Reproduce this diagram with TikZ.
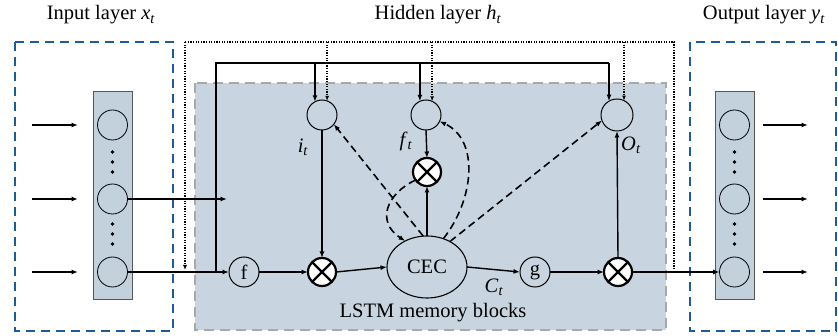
\documentclass[tikz,border=0pt]{standalone}
\usepackage{fontspec}
\setmainfont{Liberation Serif}
\usetikzlibrary{arrows.meta,shapes.geometric,calc}
\definecolor{blockfill}{HTML}{C8D5E0}
\definecolor{colfill}{HTML}{C3D1DD}
\definecolor{layerblue}{HTML}{1F5C96}
\definecolor{blockedge}{HTML}{A9A9A9}
\begin{document}
\begin{tikzpicture}[x=1pt,y=-1pt,
  txt/.style={font=\fontsize{20.5}{24}\selectfont, inner sep=0pt},
  arr/.style={-{Latex[length=6.5pt,width=5pt]}, line width=1.4pt},
  plain/.style={line width=1.4pt},
  dashedarr/.style={-{Latex[length=6.5pt,width=5pt]}, line width=1.6pt, dash pattern=on 7.5pt off 4.5pt},
  dotline/.style={line width=1.3pt, dash pattern=on 1.3pt off 1.3pt},
  dotarr/.style={dotline, -{Latex[length=5pt,width=4pt]}},
  unit/.style={circle, draw, line width=0.8pt, minimum size=30pt, inner sep=0pt, outer sep=0pt},
  gate/.style={circle, draw, line width=1pt, fill=blockfill, minimum size=30pt, inner sep=0pt, outer sep=0pt},
  mult/.style={circle, draw, line width=2.2pt, fill=white, minimum size=28pt, inner sep=0pt, outer sep=0pt},
  layerbox/.style={draw=layerblue, line width=2.4pt, dash pattern=on 9pt off 6pt},
  column/.style={draw=black!65, line width=0.8pt, fill=colfill},
  dotmark/.style={circle, fill=black, inner sep=0pt, minimum size=3.8pt}
]
\useasboundingbox (0,0) rectangle (838,336);

% LSTM memory block region
\fill[blockfill] (195,83) rectangle (666,330);
\draw[blockedge, line width=2pt, dash pattern=on 10pt off 6pt] (195,83) rectangle (666,330);

% input and output layer frames
\draw[layerbox] (15,42) rectangle (173,331);
\draw[layerbox] (690,42) rectangle (836,331);

% titles
\node[txt] (tin) at (101,15) {Input layer \textit{x}\textsubscript{\textit{t}}};
\node[txt] (thid) at (438,15) {Hidden layer \textit{h}\textsubscript{\textit{t}}};
\node[txt] (tout) at (764,15) {Output layer \textit{y}\textsubscript{\textit{t}}};

% input column
\draw[column] (93,91) rectangle (132,299);
\node[unit] (in1) at (112.5,125) {};
\node[unit] (in2) at (112.5,199) {};
\node[unit] (in3) at (112.5,272) {};
\foreach \y in {152,162,172,224,234,244}
  \node[dotmark] at (112.5,\y) {};

% output column
\draw[column] (715,91) rectangle (754,299);
\node[unit] (out1) at (734.5,125) {};
\node[unit] (out2) at (734.5,199) {};
\node[unit] (out3) at (734.5,272) {};
\foreach \y in {152,162,172,224,234,244}
  \node[dotmark] at (734.5,\y) {};

% gates
\node[gate] (ig) at (322,115) {};
\node[gate] (fg) at (426,115) {};
\node[gate, minimum size=32pt] (og) at (617,115) {};

% multiplications
\node[mult] (mi) at (322,272) {};
\node[mult] (mf) at (427,172) {};
\node[mult] (mo) at (618,272) {};
\foreach \m in {mi,mf,mo}
  \draw[line width=2.2pt] (\m.45) -- (\m.225) (\m.135) -- (\m.315);

% squashing units and cell
\node[gate, txt, minimum size=30pt] (fn) at (244,272) {f};
\node[gate, txt, minimum size=30pt] (gn) at (535,272) {g};
\node[ellipse, draw, line width=1.1pt, fill=blockfill, minimum width=80pt, minimum height=62pt, inner sep=0pt, outer sep=0pt, txt] (cec) at (427,267) {CEC};

% labels
\node[txt] (lit) at (303,147) {\textit{i}\textsubscript{\textit{t}}};
\node[txt] (lft) at (406,141) {\textit{f}\textsubscript{\textit{t}}};
\node[txt] (lot) at (631,145) {\textit{O}\textsubscript{\textit{t}}};
\node[txt] (lct) at (494,287) {\textit{C}\textsubscript{\textit{t}}};
\node[txt] (lblk) at (433,313) {LSTM memory blocks};

% external inputs and outputs
\foreach \n/\y in {1/125,2/199,3/272} {
  \coordinate (xs\n) at (32,\y);
  \draw[arr] (xs\n) -- (in\n.west -| 78,0);
  \coordinate (ye\n) at (808,\y);
  \draw[arr] (out\n.east -| 763,0) -- (ye\n);
}

% forward connections
\coordinate (xmid) at (227,199);
\draw[arr] (in2.east) -- (xmid);
\coordinate (jn) at (216,272);
\draw[arr] (in3.east) -- (fn.west);
\draw[arr] (fn.east) -- (mi.west);
\draw[arr] (mi.east) -- (cec.west);
\draw[arr] (ig.south) -- (mi.north);
\draw[arr] (fg.south) -- (mf.north);
\draw[arr] (cec.north -| mf) -- (mf.south);
\draw[arr] (cec.east) -- (gn.west);
\draw[arr] (gn.east) -- (mo.west);
\draw[arr] (mo.north) -- (og.south);
\draw[arr] (mo.east) -- (out3.west);

% input fan-out to the gates
\coordinate (tl) at (216,63);
\draw[plain] (jn) -- (tl) -- (og.120 |- tl);
\draw[arr] (og.120 |- tl) -- (og.120);
\draw[arr] (ig.118 |- tl) -- (ig.118);
\draw[arr] (fg.114 |- tl) -- (fg.114);

% recurrent hidden-state connections
\coordinate (ho) at (674,272);
\coordinate (hr) at (674,42);
\coordinate (hl) at (185,42);
\draw[dotline] (ho) -- (hr) -- (hl);
\draw[dotarr] (hl) -- (185,270);
\draw[dotarr] (ig.70 |- hl) -- (ig.70);
\draw[dotarr] (fg.66 |- hl) -- (fg.66);
\draw[dotarr] (og.64 |- hl) -- (og.64);

% peephole connections
\draw[dashedarr] (cec.97) -- (ig.-38);
\draw[dashedarr] (mf.215) .. controls (386,194) and (376,222) .. (cec.130);
\draw[dashedarr] (cec.60) .. controls (474,200) and (480,140) .. (fg.-25);
\draw[dashedarr] (cec.48) -- (og.200);
\end{tikzpicture}
\end{document}
